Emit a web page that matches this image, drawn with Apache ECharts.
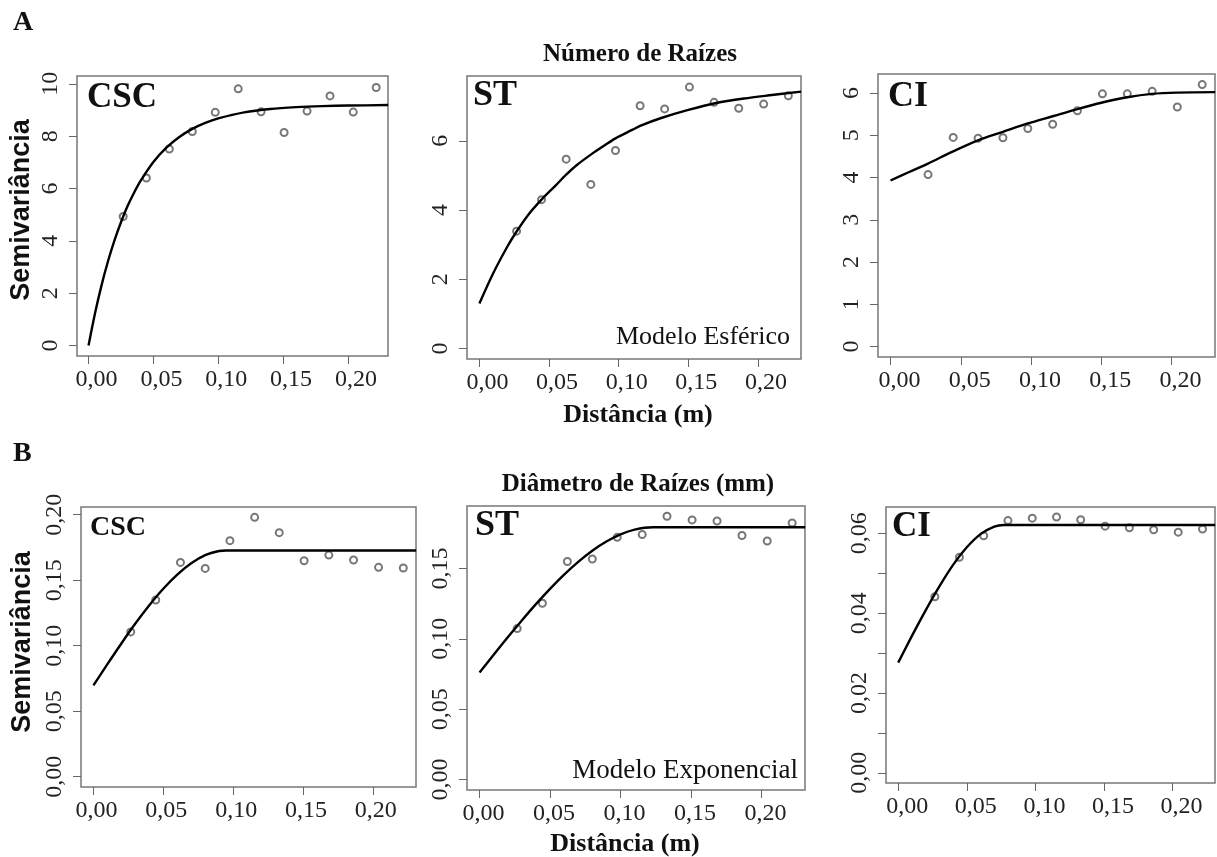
<!DOCTYPE html>
<html>
<head>
<meta charset="utf-8">
<script src="https://cdn.jsdelivr.net/npm/echarts@6/dist/echarts.min.js"></script>
<style>
html, body { margin: 0; padding: 0; background: #fff; }
#main { width: 1217px; height: 857px; }
</style>
</head>
<body>
<div id="main"></div>
<script>
// distâncias (lags) em metros, iguais para os seis painéis
var lags = [0.0267, 0.0446, 0.0623, 0.0800, 0.0977, 0.1154, 0.1330, 0.1508, 0.1685, 0.1862, 0.2041, 0.2218];
var xTicks = [0, 0.05, 0.10, 0.15, 0.20];

// A - Número de Raízes (semivariância observada)
var numCSC = [4.93, 6.40, 7.51, 8.18, 8.91, 9.81, 8.93, 8.14, 8.96, 9.54, 8.92, 9.86];
var numST  = [3.39, 4.30, 5.47, 4.74, 5.72, 7.01, 6.92, 7.55, 7.11, 6.94, 7.06, 7.30];
var numCI  = [4.07, 4.95, 4.93, 4.94, 5.16, 5.26, 5.58, 5.98, 5.98, 6.04, 5.67, 6.20];

// B - Diâmetro de Raízes (mm)
var diaCSC = [0.1105, 0.1349, 0.1636, 0.1590, 0.1802, 0.1980, 0.1863, 0.1649, 0.1692, 0.1654, 0.1598, 0.1593];
var diaST  = [0.1073, 0.1253, 0.1550, 0.1568, 0.1722, 0.1742, 0.1872, 0.1846, 0.1838, 0.1735, 0.1696, 0.1824];
var diaCI  = [0.0441, 0.0540, 0.0594, 0.0632, 0.0638, 0.0641, 0.0634, 0.0618, 0.0614, 0.0609, 0.0603, 0.0611];

// modelos ajustados
var curvaNumCSC = [[0, 0], [0.005, 1.23], [0.01, 2.30], [0.015, 3.22], [0.02, 4.02], [0.025, 4.71], [0.03, 5.32],
    [0.035, 5.83], [0.04, 6.28], [0.05, 7.01], [0.06, 7.56], [0.07, 7.97], [0.08, 8.28], [0.09, 8.51], [0.10, 8.68],
    [0.12, 8.91], [0.14, 9.04], [0.16, 9.11], [0.18, 9.15], [0.20, 9.17], [0.231, 9.19]];
var curvaNumST = [[0, 1.30], [0.01, 2.18], [0.02, 2.94], [0.0267, 3.38], [0.035, 3.86], [0.0446, 4.30], [0.055, 4.72],
    [0.0623, 5.02], [0.07, 5.30], [0.08, 5.60], [0.09, 5.87], [0.0977, 6.07], [0.11, 6.32], [0.1154, 6.43], [0.13, 6.65],
    [0.15, 6.89], [0.17, 7.09], [0.19, 7.22], [0.21, 7.32], [0.231, 7.42]];
var curvaNumCI = [[0, 3.93], [0.0133, 4.13], [0.0267, 4.33], [0.0446, 4.62], [0.0623, 4.88], [0.08, 5.08], [0.0977, 5.28],
    [0.1154, 5.45], [0.133, 5.62], [0.15, 5.77], [0.1685, 5.90], [0.186, 5.98], [0.204, 6.01], [0.231, 6.02]];
var curvaDiaCSC = [[0, 0.0697], [0.01, 0.0859], [0.02, 0.1017], [0.03, 0.1169], [0.04, 0.1309], [0.05, 0.1435],
    [0.06, 0.1543], [0.07, 0.1629], [0.08, 0.1691], [0.09, 0.1723], [0.095, 0.1727], [0.231, 0.1727]];
var curvaDiaST = [[0, 0.0761], [0.01, 0.0887], [0.02, 0.1011], [0.03, 0.1131], [0.04, 0.1247], [0.05, 0.1356],
    [0.06, 0.1457], [0.07, 0.1548], [0.08, 0.1627], [0.09, 0.1692], [0.10, 0.1743], [0.11, 0.1777], [0.123, 0.1794],
    [0.231, 0.1794]];
var curvaDiaCI = [[0, 0.0276], [0.01, 0.0343], [0.02, 0.0407], [0.03, 0.0467], [0.04, 0.0521], [0.05, 0.0565],
    [0.06, 0.0598], [0.07, 0.0617], [0.077, 0.0621], [0.231, 0.0621]];

// marcas do eixo y
var yTicksNumCSC = [0, 2, 4, 6, 8, 10];
var yTicksNumST = [0, 2, 4, 6];
var yTicksNumCI = [0, 1, 2, 3, 4, 5, 6];
var yTicksDiaCSC = [0, 0.05, 0.10, 0.15, 0.20];
var yTicksDiaST = [0, 0.05, 0.10, 0.15];
var yTicksDiaCI = [0, 0.01, 0.02, 0.03, 0.04, 0.05, 0.06];
var yLabelsDiaCI = [0, 0.02, 0.04, 0.06];

var serif = '"Liberation Serif", "Times New Roman", serif';

// posicao de cada painel: [left, top, width, height], limites do eixo y e deslocamento dos rotulos x
var paineis = [
    { box: [77, 76, 311, 280], ymin: -0.40, ymax: 10.30, ticks: yTicksNumCSC, labels: yTicksNumCSC, dec: 0, pts: numCSC, curva: curvaNumCSC, dx: 8 },
    { box: [467, 76, 334, 283], ymin: -0.30, ymax: 7.87, ticks: yTicksNumST, labels: yTicksNumST, dec: 0, pts: numST, curva: curvaNumST, dx: 8 },
    { box: [878, 74, 337, 283], ymin: -0.248, ymax: 6.45, ticks: yTicksNumCI, labels: yTicksNumCI, dec: 0, pts: numCI, curva: curvaNumCI, dx: 9 },
    { box: [81, 507, 335, 280], ymin: -0.0079, ymax: 0.2059, ticks: yTicksDiaCSC, labels: yTicksDiaCSC, dec: 2, pts: diaCSC, curva: curvaDiaCSC, dx: 3 },
    { box: [467, 506, 338, 284], ymin: -0.0075, ymax: 0.1945, ticks: yTicksDiaST, labels: yTicksDiaST, dec: 2, pts: diaST, curva: curvaDiaST, dx: 4 },
    { box: [886, 507, 329, 276], ymin: -0.00256, ymax: 0.0666, ticks: yTicksDiaCI, labels: yLabelsDiaCI, dec: 2, pts: diaCI, curva: curvaDiaCI, dx: 9 }
];

function virgula(v, dec) {
    return v.toFixed(dec).replace('.', ',');
}

var grids = [], xAxes = [], yAxes = [], series = [];

paineis.forEach(function (p, i) {
    grids.push({
        left: p.box[0], top: p.box[1], width: p.box[2], height: p.box[3],
        show: true, borderColor: '#777', borderWidth: 1.5, containLabel: false
    });
    xAxes.push({
        type: 'value', gridIndex: i, min: -0.0089, max: 0.2309,
        axisLine: { show: false, onZero: false },
        splitLine: { show: false },
        axisTick: { customValues: xTicks, length: 8, lineStyle: { color: '#666', width: 1 } },
        axisLabel: {
            customValues: xTicks, margin: 12, fontFamily: serif, fontSize: 24, color: '#222',
            padding: [0, 0, 0, p.dx * 2],
            formatter: function (v) { return virgula(v, 2); }
        }
    });
    yAxes.push({
        type: 'value', gridIndex: i, min: p.ymin, max: p.ymax,
        axisLine: { show: false, onZero: false },
        splitLine: { show: false },
        axisTick: { customValues: p.ticks, length: 8, lineStyle: { color: '#666', width: 1 } },
        axisLabel: {
            customValues: p.labels, rotate: 90, margin: 14, fontFamily: serif, fontSize: 24, color: '#222',
            formatter: function (v) { return virgula(v, p.dec); }
        }
    });
    series.push({
        type: 'scatter', xAxisIndex: i, yAxisIndex: i,
        symbol: 'emptyCircle', symbolSize: 7,
        itemStyle: { color: '#555', borderColor: '#555', borderWidth: 1.1 },
        data: lags.map(function (x, k) { return [x, p.pts[k]]; }),
        z: 2
    });
    series.push({
        type: 'line', xAxisIndex: i, yAxisIndex: i,
        showSymbol: false, smooth: 0.3,
        lineStyle: { color: '#000', width: 2.4 },
        data: p.curva,
        z: 3
    });
});

function texto(x, y, t, font, align, rot) {
    return {
        type: 'text', x: x, y: y, rotation: rot || 0, z: 10,
        style: { text: t, font: font, fill: '#111', align: align || 'left', verticalAlign: 'middle' }
    };
}

var graficos = [
    texto(13, 23, 'A', 'bold 28px ' + serif),
    texto(13, 454, 'B', 'bold 28px ' + serif),
    texto(640, 55, 'Número de Raízes', 'bold 25px ' + serif, 'center'),
    texto(638, 485, 'Diâmetro de Raízes (mm)', 'bold 25px ' + serif, 'center'),
    texto(638, 415, 'Distância (m)', 'bold 26px ' + serif, 'center'),
    texto(625, 844, 'Distância (m)', 'bold 26px ' + serif, 'center'),
    texto(22, 210, 'Semivariância', 'bold 27px "Liberation Sans", Arial, sans-serif', 'center', Math.PI / 2),
    texto(23, 642, 'Semivariância', 'bold 27px "Liberation Sans", Arial, sans-serif', 'center', Math.PI / 2),
    texto(87, 98, 'CSC', 'bold 35px ' + serif),
    texto(473, 96, 'ST', 'bold 36px ' + serif),
    texto(888, 97, 'CI', 'bold 36px ' + serif),
    texto(90, 528, 'CSC', 'bold 28px ' + serif),
    texto(475, 526, 'ST', 'bold 36px ' + serif),
    texto(892, 527, 'CI', 'bold 35px ' + serif),
    texto(790, 337, 'Modelo Esférico', '26px ' + serif, 'right'),
    texto(798, 771, 'Modelo Exponencial', '27px ' + serif, 'right')
];

var myChart = echarts.init(document.getElementById('main'));
var option = {
    animation: false,
    backgroundColor: '#fff',
    grid: grids,
    xAxis: xAxes,
    yAxis: yAxes,
    series: series,
    graphic: graficos
};
myChart.setOption(option);
</script>
</body>
</html>
